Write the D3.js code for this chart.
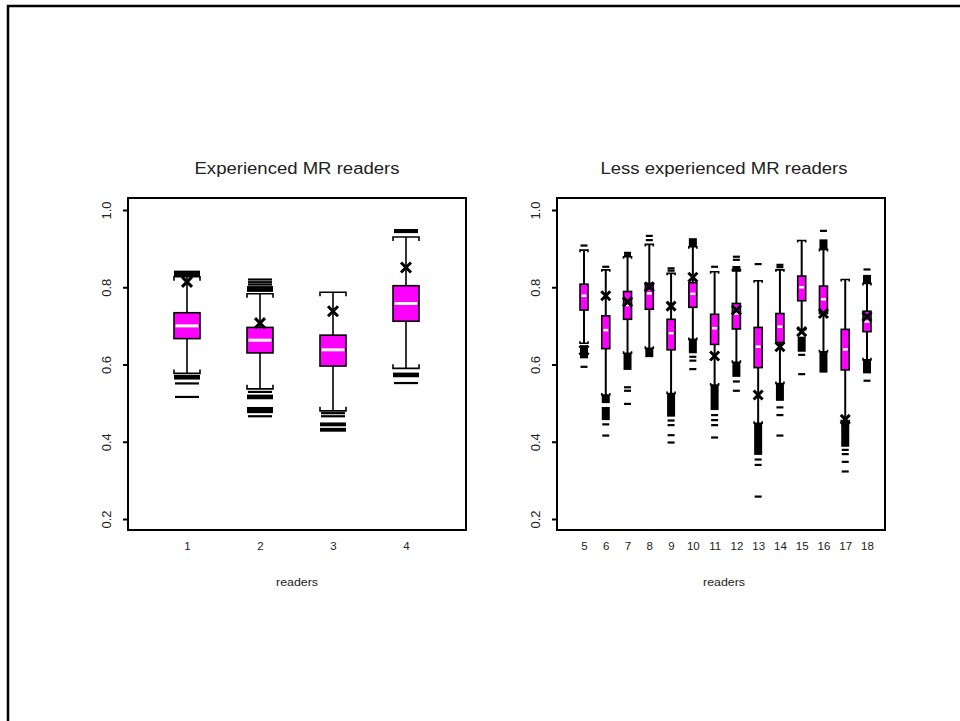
<!DOCTYPE html>
<html>
<head>
<meta charset="utf-8">
<script src="https://cdn.jsdelivr.net/npm/d3@7"></script>
<style>
  body { margin: 0; background: #fff; }
  text { font-family: Arial, "Liberation Sans", sans-serif; fill: #222; }
</style>
</head>
<body>
<div id="chart"></div>
<script>

// experienced readers (left panel)
var expReaders = [1, 2, 3, 4];
var expLowWhisker = [0.577, 0.537, 0.480, 0.590];
var expQ1 = [0.667, 0.630, 0.596, 0.712];
var expMedian = [0.700, 0.663, 0.638, 0.758];
var expQ3 = [0.734, 0.696, 0.676, 0.804];
var expHighWhisker = [0.827, 0.783, 0.787, 0.930];
var expMarker = [0.814, 0.707, 0.738, 0.851];
var expOutliers = [
  [0.551, 0.516],
  [0.820, 0.813, 0.807, 0.529, 0.466],
  [0.474, 0.466],
  [0.948, 0.943, 0.552]
];
var expOutlierBands = [
  [[0.828, 0.843], [0.561, 0.573]],
  [[0.788, 0.803], [0.510, 0.522], [0.474, 0.490]],
  [[0.440, 0.450], [0.426, 0.436]],
  [[0.567, 0.579]]
];

// less experienced readers (right panel)
var lessReaders = [5, 6, 7, 8, 9, 10, 11, 12, 13, 14, 15, 16, 17, 18];
var lessLowWhisker = [0.655, 0.521, 0.629, 0.642, 0.525, 0.665, 0.547, 0.606, 0.448, 0.551, 0.690, 0.633, 0.452, 0.612];
var lessQ1 = [0.741, 0.641, 0.717, 0.743, 0.638, 0.748, 0.652, 0.692, 0.592, 0.657, 0.765, 0.732, 0.586, 0.685];
var lessMedian = [0.778, 0.689, 0.754, 0.784, 0.681, 0.783, 0.694, 0.732, 0.646, 0.698, 0.800, 0.769, 0.639, 0.711];
var lessQ3 = [0.808, 0.726, 0.789, 0.810, 0.717, 0.812, 0.730, 0.758, 0.696, 0.732, 0.829, 0.803, 0.691, 0.738];
var lessHighWhisker = [0.896, 0.845, 0.879, 0.911, 0.836, 0.905, 0.840, 0.846, 0.817, 0.845, 0.921, 0.898, 0.820, 0.810];
var lessMarker = [0.637, 0.778, 0.762, 0.801, 0.751, 0.826, 0.622, 0.741, 0.521, 0.646, 0.685, 0.732, 0.458, 0.724];
var lessOutliers = [
  [0.908, 0.594],
  [0.853, 0.445, 0.416],
  [0.889, 0.883, 0.541, 0.532, 0.498],
  [0.933, 0.922],
  [0.849, 0.843, 0.455, 0.443, 0.417, 0.398],
  [0.620, 0.610, 0.588],
  [0.853, 0.469, 0.456, 0.443, 0.411],
  [0.879, 0.871, 0.556, 0.532],
  [0.860, 0.354, 0.340, 0.258],
  [0.858, 0.852, 0.489, 0.469, 0.416],
  [0.625, 0.575],
  [0.946],
  [0.379, 0.368, 0.348, 0.323],
  [0.846, 0.558]
];
var lessOutlierBands = [
  [[0.616, 0.650]],
  [[0.500, 0.521], [0.456, 0.490]],
  [[0.586, 0.629]],
  [[0.619, 0.642]],
  [[0.465, 0.525]],
  [[0.905, 0.927], [0.629, 0.665]],
  [[0.482, 0.547]],
  [[0.840, 0.855], [0.568, 0.606]],
  [[0.366, 0.448]],
  [[0.506, 0.551]],
  [[0.633, 0.672]],
  [[0.898, 0.924], [0.579, 0.633]],
  [[0.387, 0.452]],
  [[0.810, 0.832], [0.577, 0.612]]
];

var yTicks = [0.2, 0.4, 0.6, 0.8, 1.0];

var svg = d3.select("#chart").append("svg")
    .attr("width", 960)
    .attr("height", 721);

// outer frame (only top and left edges show in the window)
svg.append("rect")
    .attr("x", 8).attr("y", 6)
    .attr("width", 1000).attr("height", 1000)
    .attr("fill", "none")
    .attr("stroke", "#000")
    .attr("stroke-width", 2.5);

// shared y scale
var y = d3.scaleLinear().domain([0.2, 1.0]).range([519, 210]);

// build rows out of the arrays
function make_rows(readers, lo, q1, med, q3, hi, marker, outs, bands){
  return readers.map(function(r, i){
    return {reader: r, lo: lo[i], q1: q1[i], med: med[i], q3: q3[i], hi: hi[i],
            marker: marker[i], outliers: outs[i], bands: bands[i]};
  });
}

function draw_panel(p){

  var g = svg.append("g");
  var x = d3.scaleLinear().domain(p.domain).range(p.range);

  // title
  g.append("text")
    .attr("x", (p.x0 + p.x1) / 2 + p.titleShift)
    .attr("y", 174)
    .attr("text-anchor", "middle")
    .attr("font-size", 16)
    .attr("textLength", p.titleWidth)
    .attr("lengthAdjust", "spacingAndGlyphs")
    .text(p.title);

  // frame
  g.append("rect")
    .attr("x", p.x0).attr("y", 198)
    .attr("width", p.x1 - p.x0).attr("height", 332)
    .attr("fill", "none")
    .attr("stroke", "#000")
    .attr("stroke-width", 2);

  // y axis
  var yAxis = g.append("g")
    .attr("transform", "translate(" + (p.x0 - 1) + ",0)")
    .call(d3.axisLeft(y).tickValues(yTicks).tickFormat(d3.format(".1f")).tickSize(4));
  yAxis.select(".domain").remove();
  yAxis.selectAll("line").attr("stroke-width", 2);
  yAxis.selectAll("text")
    .attr("transform", "rotate(-90)")
    .attr("x", 0).attr("y", -16).attr("dy", 0)
    .attr("text-anchor", "middle")
    .attr("font-size", 13)
    .attr("font-family", "Arial, 'Liberation Sans', sans-serif")
    .attr("fill", "#222");

  // x axis, labels only
  var xAxis = g.append("g")
    .attr("transform", "translate(0,530)")
    .call(d3.axisBottom(x).tickValues(p.readers).tickFormat(d3.format("d")).tickSize(0).tickPadding(12));
  xAxis.select(".domain").remove();
  xAxis.selectAll("text")
    .attr("font-size", 11.5)
    .attr("font-family", "Arial, 'Liberation Sans', sans-serif")
    .attr("fill", "#222");

  // axis title
  g.append("text")
    .attr("x", (p.x0 + p.x1) / 2 + p.titleShift)
    .attr("y", 586)
    .attr("text-anchor", "middle")
    .attr("font-size", 10)
    .attr("textLength", 42)
    .attr("lengthAdjust", "spacingAndGlyphs")
    .text("readers");

  var w = p.boxWidth / 2;
  var s = p.serif;

  var box = g.selectAll(".reader").data(p.rows)
    .enter().append("g")
    .attr("class", "reader")
    .attr("transform", function(d){ return "translate(" + x(d.reader) + ",0)"; });

  // whiskers
  box.append("line")
    .attr("x1", 0).attr("x2", 0)
    .attr("y1", function(d){ return y(d.hi); })
    .attr("y2", function(d){ return y(d.q3); })
    .attr("stroke", "#000").attr("stroke-width", p.whiskerWidth);
  box.append("line")
    .attr("x1", 0).attr("x2", 0)
    .attr("y1", function(d){ return y(d.q1); })
    .attr("y2", function(d){ return y(d.lo); })
    .attr("stroke", "#000").attr("stroke-width", p.whiskerWidth);

  // staples with small serifs turned toward the box
  box.append("path")
    .attr("d", function(d){
      var yy = y(d.hi);
      return "M" + (-w) + "," + (yy + s) + "V" + yy + "H" + w + "V" + (yy + s);
    })
    .attr("fill", "none").attr("stroke", "#000").attr("stroke-width", 1.6);
  box.append("path")
    .attr("d", function(d){
      var yy = y(d.lo);
      return "M" + (-w) + "," + (yy - s) + "V" + yy + "H" + w + "V" + (yy - s);
    })
    .attr("fill", "none").attr("stroke", "#000").attr("stroke-width", 1.6);

  // solid blocks of outliers
  box.selectAll(".band").data(function(d){ return d.bands; })
    .enter().append("rect")
    .attr("class", "band")
    .attr("x", -w)
    .attr("width", p.boxWidth)
    .attr("y", function(b){ return y(b[1]); })
    .attr("height", function(b){ return y(b[0]) - y(b[1]); })
    .attr("fill", "#000");

  // single outliers as dashes
  box.selectAll(".out").data(function(d){ return d.outliers; })
    .enter().append("line")
    .attr("class", "out")
    .attr("x1", -p.dash / 2).attr("x2", p.dash / 2)
    .attr("y1", function(v){ return y(v); })
    .attr("y2", function(v){ return y(v); })
    .attr("stroke", "#000").attr("stroke-width", 2.2);

  // box
  box.append("rect")
    .attr("x", -w)
    .attr("width", p.boxWidth)
    .attr("y", function(d){ return y(d.q3); })
    .attr("height", function(d){ return y(d.q1) - y(d.q3); })
    .attr("fill", "#ff00ff")
    .attr("stroke", "#000")
    .attr("stroke-width", 1.6);

  // median
  box.append("line")
    .attr("x1", -w + 1.5).attr("x2", w - 1.5)
    .attr("y1", function(d){ return y(d.med); })
    .attr("y2", function(d){ return y(d.med); })
    .attr("stroke", "#fff").attr("stroke-width", p.medianWidth);

  // cross marker
  var m = p.markerSize;
  box.append("path")
    .attr("d", function(d){
      var yy = y(d.marker);
      return "M" + (-m) + "," + (yy - m) + "L" + m + "," + (yy + m) +
             "M" + (-m) + "," + (yy + m) + "L" + m + "," + (yy - m);
    })
    .attr("stroke", "#000").attr("stroke-width", 3).attr("fill", "none");
}

draw_panel({
  title: "Experienced MR readers",
  titleWidth: 205,
  titleShift: 0,
  x0: 128, x1: 466,
  domain: [1, 4], range: [187, 406],
  readers: expReaders,
  rows: make_rows(expReaders, expLowWhisker, expQ1, expMedian, expQ3, expHighWhisker,
                  expMarker, expOutliers, expOutlierBands),
  boxWidth: 26, serif: 4, dash: 24,
  whiskerWidth: 1.6, medianWidth: 3, markerSize: 5
});

draw_panel({
  title: "Less experienced MR readers",
  titleWidth: 247,
  titleShift: 3,
  x0: 557, x1: 885,
  domain: [5, 18], range: [584, 867],
  readers: lessReaders,
  rows: make_rows(lessReaders, lessLowWhisker, lessQ1, lessMedian, lessQ3, lessHighWhisker,
                  lessMarker, lessOutliers, lessOutlierBands),
  boxWidth: 8, serif: 2, dash: 7,
  whiskerWidth: 2, medianWidth: 2.5, markerSize: 4.5
});

</script>
</body>
</html>
